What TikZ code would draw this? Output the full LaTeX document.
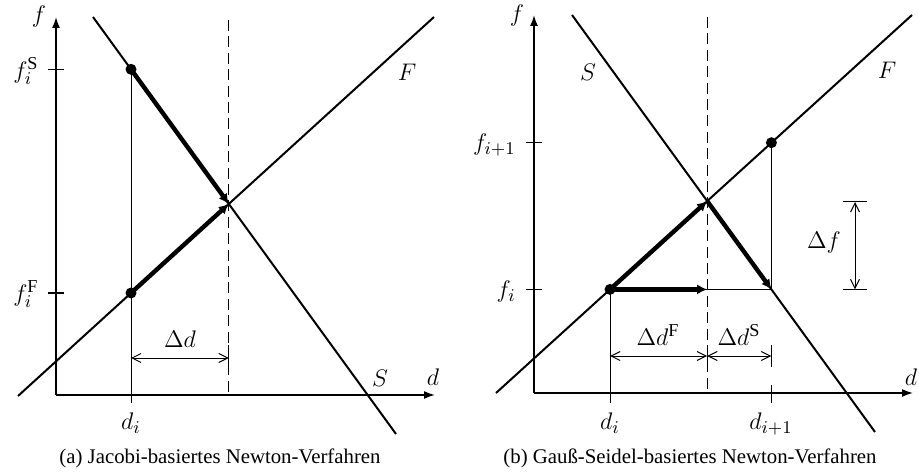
\documentclass[tikz,border=0pt]{standalone}
\usepackage{fontspec}
\setmainfont{Liberation Serif}
\usetikzlibrary{arrows.meta}
\begin{document}
\begin{tikzpicture}[x=0.5pt,y=-0.5pt,
  axisline/.style={line width=0.8pt,-{Latex[length=5.5pt,width=4pt]}},
  curveline/.style={line width=1pt},
  thinline/.style={line width=0.5pt},
  tickline/.style={line width=0.6pt},
  thickarrow/.style={line width=2.2pt,-{Latex[length=5pt,width=5pt]}},
  dimline/.style={line width=0.5pt,{Straight Barb[length=4.5pt,width=4.5pt]}-{Straight Barb[length=4.5pt,width=4.5pt]}},
  guideline/.style={line width=0.5pt,dash pattern=on 5.5pt off 2.7pt},
  dotnode/.style={circle,fill,inner sep=0pt,minimum size=5.5pt},
  lbl/.style={inner sep=0pt,font=\fontsize{13}{15}\selectfont},
  captxt/.style={inner sep=0pt,font=\fontsize{10.4}{12}\selectfont}
]
\useasboundingbox (0,0) rectangle (919,475);

% ---------------- left panel ----------------
\coordinate (O1) at (56,395);
\coordinate (X1) at (435,395);
\coordinate (Y1) at (56,17);
\coordinate (S1a) at (93,17);
\coordinate (S1b) at (396,434);
\coordinate (F1a) at (18,396);
\coordinate (F1b) at (434,17);
\coordinate (I1) at (228.8,203.9);
\coordinate (I1top) at (228.8,20);
\coordinate (I1bot) at (228.8,395);
\coordinate (P1) at (131,69.3);
\coordinate (Q1) at (131,293);
\coordinate (P1bot) at (131,403);
\coordinate (tS1a) at (48,69.3);
\coordinate (tS1b) at (64,69.3);
\coordinate (tF1a) at (48,293);
\coordinate (tF1b) at (64,293);
\coordinate (D1a) at (131,358);
\coordinate (D1b) at (228.8,358);
\coordinate (E1a) at (228.8,345);
\coordinate (E1b) at (228.8,368);

\draw[axisline] (O1) -- (X1);
\draw[axisline] (O1) -- (Y1);
\draw[tickline] (tS1a) -- (tS1b);
\draw[tickline] (tF1a) -- (tF1b);
\draw[curveline] (S1a) -- (S1b);
\draw[curveline] (F1a) -- (F1b);
\draw[thinline] (P1) -- (P1bot);
\draw[guideline] (I1top) -- (I1bot);
\draw[thinline] (E1a) -- (E1b);
\draw[dimline] (D1a) -- (D1b);
\draw[thickarrow] (P1) -- (I1);
\draw[thickarrow] (Q1) -- (I1);
\node[dotnode] (dP1) at (P1) {};
\node[dotnode] (dQ1) at (Q1) {};

\node[lbl] (lf1) at (39,17) {$f$};
\node[lbl,anchor=east] (lfS1) at (39,71) {$f_i^{\mathrm{S}}$};
\node[lbl,anchor=east] (lfF1) at (39,294) {$f_i^{\mathrm{F}}$};
\node[lbl] (ldi1) at (131,423) {$d_i$};
\node[lbl] (lDd1) at (180,339) {$\Delta d$};
\node[lbl] (lS1) at (380,378) {$S$};
\node[lbl] (ld1) at (433,377) {$d$};
\node[lbl] (lF1) at (407,72) {$F$};
\node[captxt] (cap1) at (220,458) {(a) Jacobi-basiertes Newton-Verfahren};

% ---------------- right panel ----------------
\coordinate (O2) at (534,393);
\coordinate (X2) at (913,393);
\coordinate (Y2) at (534,15);
\coordinate (S2a) at (572,15);
\coordinate (S2b) at (875,432);
\coordinate (F2a) at (496,393);
\coordinate (F2b) at (912,15);
\coordinate (I2) at (707.2,201.1);
\coordinate (I2top) at (707.2,17);
\coordinate (I2bot) at (707.2,393);
\coordinate (A2) at (610,289.4);
\coordinate (A2bot) at (610,403);
\coordinate (H2) at (707.2,289.4);
\coordinate (C2) at (771.4,289.4);
\coordinate (D2) at (771.4,142.7);
\coordinate (tU2a) at (526,142.7);
\coordinate (tU2b) at (542,142.7);
\coordinate (tL2a) at (526,289.4);
\coordinate (tL2b) at (542,289.4);
\coordinate (DF2a) at (610,356);
\coordinate (DF2b) at (707.2,356);
\coordinate (DS2b) at (771.4,356);
\coordinate (E2a) at (707.2,345);
\coordinate (E2b) at (707.2,368);
\coordinate (E3a) at (771.4,345);
\coordinate (E3b) at (771.4,367);
\coordinate (E4a) at (771.4,385);
\coordinate (E4b) at (771.4,403);
\coordinate (Fa) at (855,202);
\coordinate (Fb) at (855,289.4);
\coordinate (Fca) at (843,202);
\coordinate (Fcb) at (867,202);
\coordinate (Fda) at (843,289.4);
\coordinate (Fdb) at (867,289.4);

\draw[axisline] (O2) -- (X2);
\draw[axisline] (O2) -- (Y2);
\draw[tickline] (tU2a) -- (tU2b);
\draw[tickline] (tL2a) -- (tL2b);
\draw[curveline] (S2a) -- (S2b);
\draw[curveline] (F2a) -- (F2b);
\draw[thinline] (A2) -- (A2bot);
\draw[thinline] (D2) -- (C2);
\draw[thinline] (A2) -- (C2);
\draw[guideline] (I2top) -- (I2bot);
\draw[thinline] (E2a) -- (E2b);
\draw[thinline] (E3a) -- (E3b);
\draw[thinline] (E4a) -- (E4b);
\draw[dimline] (DF2a) -- (DF2b);
\draw[dimline] (DF2b) -- (DS2b);
\draw[thinline] (Fca) -- (Fcb);
\draw[thinline] (Fda) -- (Fdb);
\draw[dimline] (Fa) -- (Fb);
\draw[thickarrow] (A2) -- (I2);
\draw[thickarrow] (I2) -- (C2);
\draw[thickarrow] (A2) -- (H2);
\node[dotnode] (dA2) at (A2) {};
\node[dotnode] (dD2) at (D2) {};

\node[lbl] (lf2) at (517,16) {$f$};
\node[lbl,anchor=east] (lfU2) at (516,145) {$f_{i+1}$};
\node[lbl,anchor=east] (lfL2) at (516,292) {$f_i$};
\node[lbl] (ldi2) at (610,423) {$d_i$};
\node[lbl] (ldi3) at (771,424) {$d_{i+1}$};
\node[lbl] (lDdF) at (658,335) {$\Delta d^{\mathrm{F}}$};
\node[lbl] (lDdS) at (739,335) {$\Delta d^{\mathrm{S}}$};
\node[lbl] (lS2) at (588,72) {$S$};
\node[lbl] (lF2) at (887,70) {$F$};
\node[lbl] (ld2) at (911,377) {$d$};
\node[lbl] (lDf) at (824,243) {$\Delta f$};
\node[captxt] (cap2) at (690,458) {(b) Gauß-Seidel-basiertes Newton-Verfahren};
\end{tikzpicture}
\end{document}
